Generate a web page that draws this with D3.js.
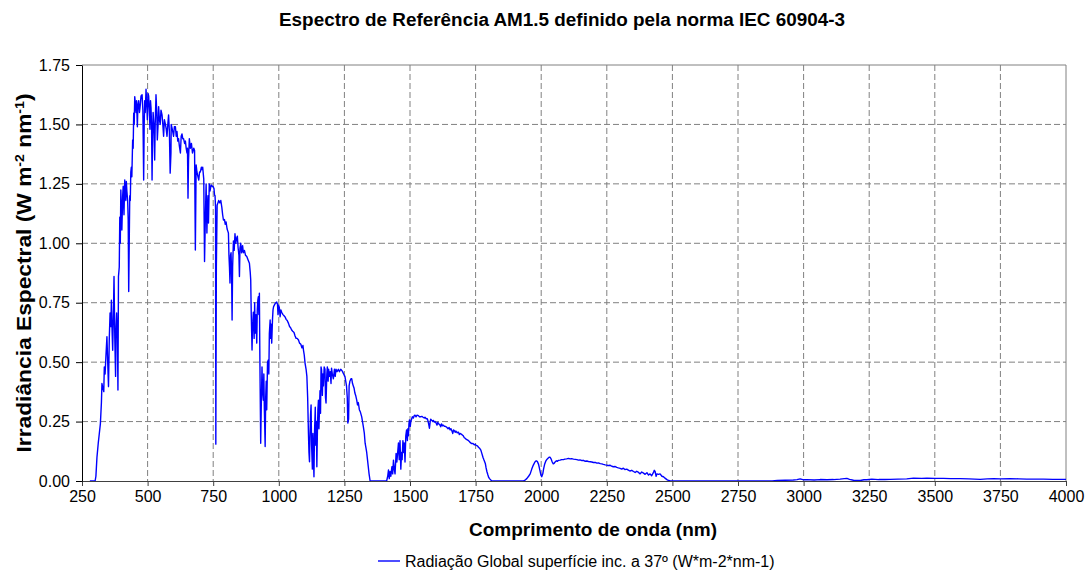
<!DOCTYPE html>
<html><head><meta charset="utf-8">
<script src="https://cdn.jsdelivr.net/npm/d3@7"></script>
<style>body{margin:0;background:#fff}svg{display:block;font-family:"Liberation Sans",Arial,sans-serif}</style>
</head><body><svg id="c" width="1086" height="572"></svg>
<script>
const wavelengthNm = [280,300,303,307,312,316,320,324,326,330,333,335,338,341,345,348,351,354,357,360,362,365,367,370,372,375,378,380,382,385,387,389,392,394,396,398,400,402,405,407,410,413,415,417,419,421,424,426,428,430,432,434,436,438,440,443,445,447,449,451,454,456,458,461,463,466,469,472,475,479,482,485,487,489,491,494,497,499,502,504,507,509,511,513,515,517,519,521,524,527,529,532,535,537,540,542,545,548,551,555,558,561,564,568,571,574,577,580,583,586,589,590,594,599,602,606,609,612,615,618,621,625,628,631,634,637,641,644,647,650,652,654,656,659,663,667,671,676,679,682,685,688,692,695,698,701,705,707,710,714,717,720,723,726,728,730,732,735,738,742,746,749,753,755,757,759,760,762,765,768,771,775,779,783,786,789,793,796,799,803,806,808,810,812,814,816,818,820,822,824,827,830,833,836,839,842,845,848,850,852,855,858,862,865,869,873,878,883,888,891,893,895,898,900,903,906,908,910,913,916,918,920,922,924,926,928,931,933,936,938,941,943,945,948,950,952,954,957,960,962,964,967,969,971,973,976,978,980,983,986,989,992,995,997,999,1002,1005,1008,1011,1016,1020,1024,1028,1032,1037,1041,1045,1049,1053,1058,1062,1066,1070,1075,1079,1084,1088,1092,1094,1097,1100,1104,1107,1110,1113,1115,1117,1119,1121,1123,1125,1128,1130,1132,1134,1136,1139,1141,1143,1145,1147,1149,1151,1153,1155,1157,1159,1161,1163,1166,1168,1170,1173,1176,1178,1180,1183,1185,1188,1190,1193,1196,1199,1201,1204,1208,1212,1215,1218,1222,1227,1231,1236,1240,1243,1247,1252,1255,1258,1261,1263,1266,1268,1271,1275,1278,1281,1284,1287,1290,1293,1297,1300,1303,1307,1311,1316,1319,1322,1326,1329,1332,1335,1338,1341,1344,1348,1411,1415,1418,1421,1424,1427,1431,1434,1437,1440,1443,1447,1450,1453,1456,1459,1462,1465,1468,1470,1473,1476,1478,1481,1484,1487,1490,1492,1494,1496,1498,1501,1503,1506,1509,1513,1516,1519,1523,1527,1532,1536,1540,1545,1550,1554,1557,1562,1566,1568,1571,1574,1577,1579,1583,1587,1589,1593,1596,1599,1603,1606,1609,1613,1617,1620,1624,1627,1631,1635,1640,1645,1649,1653,1656,1660,1663,1666,1670,1672,1675,1680,1685,1688,1692,1698,1703,1707,1710,1715,1720,1723,1727,1731,1736,1740,1745,1748,1752,1757,1761,1765,1770,1774,1778,1782,1787,1790,1793,1797,1800,1803,1808,1812,1932,1940,1945,1952,1958,1964,1970,1976,1981,1985,1990,1995,1999,2002,2006,2009,2013,2018,2021,2025,2030,2034,2038,2042,2046,2050,2053,2058,2062,2066,2072,2078,2085,2090,2097,2104,2110,2116,2123,2130,2136,2142,2148,2155,2161,2168,2174,2180,2187,2193,2199,2206,2212,2218,2225,2231,2237,2244,2250,2256,2263,2269,2275,2282,2288,2294,2301,2307,2313,2319,2326,2332,2338,2345,2352,2358,2364,2371,2377,2383,2390,2396,2403,2409,2415,2421,2428,2431,2434,2438,2441,2447,2453,2460,2466,2472,2479,2486,2492,2880,2900,2930,2961,2975,2987,3000,3012,3040,3063,3090,3114,3139,3155,3165,3175,3190,3216,3230,3241,3260,3286,3310,3330,3360,3393,3419,3450,3470,3500,3533,3560,3597,3630,3673,3700,3724,3750,3787,3820,3851,3880,3914,3950,3978,4000];
const irradiance = [0,0,0.02,0.10,0.16,0.2,0.24,0.33,0.41,0.39,0.376,0.48,0.45,0.52,0.607,0.5,0.397,0.6,0.707,0.65,0.761,0.62,0.55,0.72,0.86,0.6,0.44,0.65,0.707,0.6,0.383,0.86,0.9,1.11,1.0,1.224,1.15,1.056,1.2,1.24,1.12,1.266,1.2,1.18,1.26,1.22,1.18,1.1,0.797,1.0,1.2,1.18,1.3,1.32,1.28,1.435,1.4,1.547,1.5,1.617,1.58,1.55,1.6,1.49,1.58,1.6,1.55,1.58,1.62,1.625,1.56,1.266,1.5,1.6,1.55,1.648,1.58,1.52,1.63,1.62,1.55,1.48,1.6,1.57,1.5,1.266,1.45,1.55,1.5,1.35,1.5,1.625,1.55,1.435,1.5,1.575,1.52,1.5,1.56,1.54,1.5,1.45,1.52,1.5,1.48,1.45,1.5,1.54,1.47,1.295,1.38,1.5,1.48,1.45,1.49,1.49,1.45,1.47,1.43,1.44,1.41,1.38,1.45,1.46,1.44,1.44,1.42,1.43,1.4,1.38,1.4,1.19,1.35,1.44,1.4,1.42,1.38,1.4,1.39,0.972,1.33,1.3,1.28,1.266,1.3,1.3,1.32,1.31,1.32,1.27,0.923,1.1,1.25,1.043,1.15,1.2,1.085,1.25,1.22,1.245,1.24,1.24,1.23,1.203,1.2,1.15,0.155,0.9,1.16,1.17,1.18,1.17,1.18,1.15,1.12,1.098,1.1,1.08,1.09,1.06,1.05,1.043,0.95,0.9,0.833,0.95,0.96,0.88,0.677,0.9,1.01,0.97,1.04,1.0,1.02,1.03,0.98,0.95,0.86,0.98,1.0,0.96,0.99,0.96,0.97,0.95,0.944,0.93,0.916,0.88,0.846,0.7,0.551,0.65,0.71,0.6,0.75,0.622,0.7,0.58,0.72,0.76,0.775,0.7,0.79,0.5,0.159,0.3,0.48,0.38,0.34,0.45,0.3,0.145,0.35,0.42,0.3,0.5,0.509,0.45,0.62,0.677,0.6,0.66,0.58,0.68,0.72,0.733,0.74,0.746,0.75,0.753,0.745,0.7,0.74,0.73,0.691,0.72,0.71,0.7,0.695,0.69,0.68,0.675,0.663,0.65,0.645,0.635,0.63,0.625,0.61,0.6,0.6,0.593,0.58,0.575,0.56,0.57,0.551,0.53,0.496,0.47,0.44,0.35,0.2,0.12,0.081,0.2,0.28,0.32,0.15,0.05,0.2,0.1,0.018,0.2,0.31,0.15,0.25,0.06,0.2,0.3,0.34,0.22,0.3,0.38,0.285,0.48,0.467,0.36,0.45,0.4,0.48,0.47,0.35,0.328,0.45,0.48,0.42,0.47,0.44,0.46,0.41,0.475,0.45,0.43,0.47,0.44,0.47,0.46,0.47,0.46,0.47,0.465,0.46,0.45,0.44,0.42,0.4,0.35,0.244,0.26,0.4,0.42,0.43,0.43,0.41,0.4,0.39,0.37,0.36,0.34,0.32,0.33,0.3,0.29,0.27,0.25,0.23,0.2,0.159,0.14,0.12,0.09,0.06,0.03,0,0,0.02,0.046,0.01,0.04,0.02,0.06,0.03,0.088,0.05,0.03,0.116,0.08,0.12,0.16,0.09,0.17,0.05,0.12,0.09,0.17,0.12,0.16,0.08,0.19,0.215,0.17,0.22,0.19,0.24,0.257,0.23,0.25,0.26,0.27,0.265,0.275,0.277,0.27,0.277,0.275,0.27,0.27,0.272,0.268,0.265,0.268,0.262,0.262,0.255,0.24,0.222,0.25,0.26,0.255,0.25,0.255,0.248,0.25,0.245,0.235,0.247,0.24,0.238,0.228,0.24,0.232,0.235,0.23,0.23,0.226,0.22,0.225,0.215,0.22,0.21,0.2,0.215,0.21,0.205,0.21,0.203,0.205,0.195,0.2,0.195,0.19,0.182,0.18,0.175,0.172,0.17,0.165,0.16,0.157,0.158,0.152,0.155,0.15,0.148,0.142,0.138,0.13,0.115,0.1,0.088,0.074,0.055,0.04,0.025,0.015,0.01,0.004,0,0,0.005,0.01,0.02,0.03,0.05,0.067,0.08,0.085,0.083,0.07,0.045,0.025,0.018,0.03,0.05,0.07,0.085,0.09,0.095,0.1,0.1,0.092,0.08,0.072,0.075,0.08,0.085,0.083,0.087,0.088,0.09,0.09,0.092,0.093,0.095,0.093,0.094,0.092,0.091,0.09,0.088,0.089,0.086,0.087,0.083,0.084,0.082,0.081,0.08,0.078,0.078,0.075,0.076,0.073,0.072,0.07,0.068,0.067,0.065,0.066,0.062,0.06,0.061,0.057,0.055,0.053,0.05,0.054,0.048,0.05,0.046,0.042,0.045,0.04,0.036,0.041,0.036,0.03,0.038,0.033,0.028,0.035,0.025,0.03,0.022,0.036,0.045,0.04,0.02,0.03,0.028,0.03,0.02,0.018,0.012,0.006,0.002,0,0,0.002,0.003,0.004,0.006,0.009,0.005,0.006,0.004,0.006,0.005,0.006,0.008,0.01,0.011,0.007,0.003,0.002,0.005,0.005,0.008,0.006,0.006,0.007,0.008,0.009,0.012,0.011,0.012,0.011,0.011,0.01,0.01,0.009,0.007,0.009,0.01,0.009,0.01,0.009,0.008,0.008,0.008,0.007,0.007,0.007];
const xTicks = [250,500,750,1000,1250,1500,1750,2000,2250,2500,2750,3000,3250,3500,3750,4000];
const yTicks = [0,0.25,0.5,0.75,1.0,1.25,1.5,1.75];
const titleText = "Espectro de Referência AM1.5 definido pela norma IEC 60904-3";
const xTitle = "Comprimento de onda (nm)";
const seriesName = "Radiação Global superfície inc. a 37º (W*m-2*nm-1)";

const data = wavelengthNm.map((w,i)=>({w, v: irradiance[i]}));
const svg = d3.select("#c");
const L=82, R=1066, T=65, B=481;
const x = d3.scaleLinear().domain([250,4000]).range([L,R]);
const y = d3.scaleLinear().domain([0,1.75]).range([B,T]);

function fit(sel, target){
  const n = sel.node();
  const w = n.getComputedTextLength();
  if (Math.abs(w-target)/target > 0.02) sel.attr("textLength", target).attr("lengthAdjust","spacingAndGlyphs");
}

// grid
const g = svg.append("g");
g.selectAll(".gx").data(xTicks.filter(t=>t>250&&t<4000)).join("line")
  .attr("x1",d=>x(d)).attr("x2",d=>x(d)).attr("y1",T).attr("y2",B)
  .attr("stroke","#808080").attr("stroke-dasharray","6,3").attr("stroke-width",1);
g.selectAll(".gy").data(yTicks.filter(t=>t>0&&t<1.75)).join("line")
  .attr("x1",L).attr("x2",R).attr("y1",d=>y(d)).attr("y2",d=>y(d))
  .attr("stroke","#808080").attr("stroke-dasharray","6,3").attr("stroke-width",1);
svg.append("line").attr("x1",L).attr("x2",R).attr("y1",T).attr("y2",T).attr("stroke","#808080");
svg.append("line").attr("x1",R).attr("x2",R).attr("y1",T).attr("y2",B).attr("stroke","#808080");

// series
svg.append("path").datum(data)
  .attr("d", d3.line().x(d=>x(d.w)).y(d=>y(d.v)))
  .attr("fill","none").attr("stroke","#0000FF").attr("stroke-width",1.4).attr("stroke-linejoin","round");

// axes
const xa = svg.append("g").attr("transform",`translate(0,${B})`)
  .call(d3.axisBottom(x).tickValues(xTicks).tickSize(5).tickSizeOuter(0).tickPadding(5).tickFormat(d3.format("d")));
xa.select(".domain").attr("stroke","#404040");
xa.selectAll(".tick line").attr("stroke","#404040");
xa.selectAll("text").attr("font-size","16px").attr("fill","#000").attr("font-family","Liberation Sans, Arial");
const ya = svg.append("g").attr("transform",`translate(${L},0)`)
  .call(d3.axisLeft(y).tickValues(yTicks).tickSize(6).tickSizeOuter(0).tickPadding(6).tickFormat(d3.format(".2f")));
ya.select(".domain").attr("stroke","#000");
ya.selectAll(".tick line").attr("stroke","#000");
ya.selectAll("text").attr("font-size","16px").attr("fill","#000").attr("font-family","Liberation Sans, Arial");

// titles
const tt = svg.append("text").attr("x",562).attr("y",26).attr("text-anchor","middle")
  .attr("font-size","18px").attr("font-weight","bold").text(titleText);
fit(tt, 566);
const xt = svg.append("text").attr("x",593).attr("y",536).attr("text-anchor","middle")
  .attr("font-size","18px").attr("font-weight","bold").text(xTitle);
fit(xt, 248);
const yt = svg.append("text").attr("transform","translate(31,273) rotate(-90)").attr("text-anchor","middle")
  .attr("font-size","21px").attr("font-weight","bold");
yt.append("tspan").text("Irradiância Espectral (W m");
yt.append("tspan").attr("baseline-shift","super").attr("font-size","13px").text("-2");
yt.append("tspan").text(" nm");
yt.append("tspan").attr("baseline-shift","super").attr("font-size","13px").text("-1");
yt.append("tspan").text(")");
fit(yt, 359);

// legend
svg.append("line").attr("x1",378).attr("x2",400).attr("y1",561).attr("y2",561).attr("stroke","#0000FF").attr("stroke-width",1.4);
const lt = svg.append("text").attr("x",405).attr("y",567).attr("font-size","16px").text(seriesName);
fit(lt, 373);
</script></body></html>
